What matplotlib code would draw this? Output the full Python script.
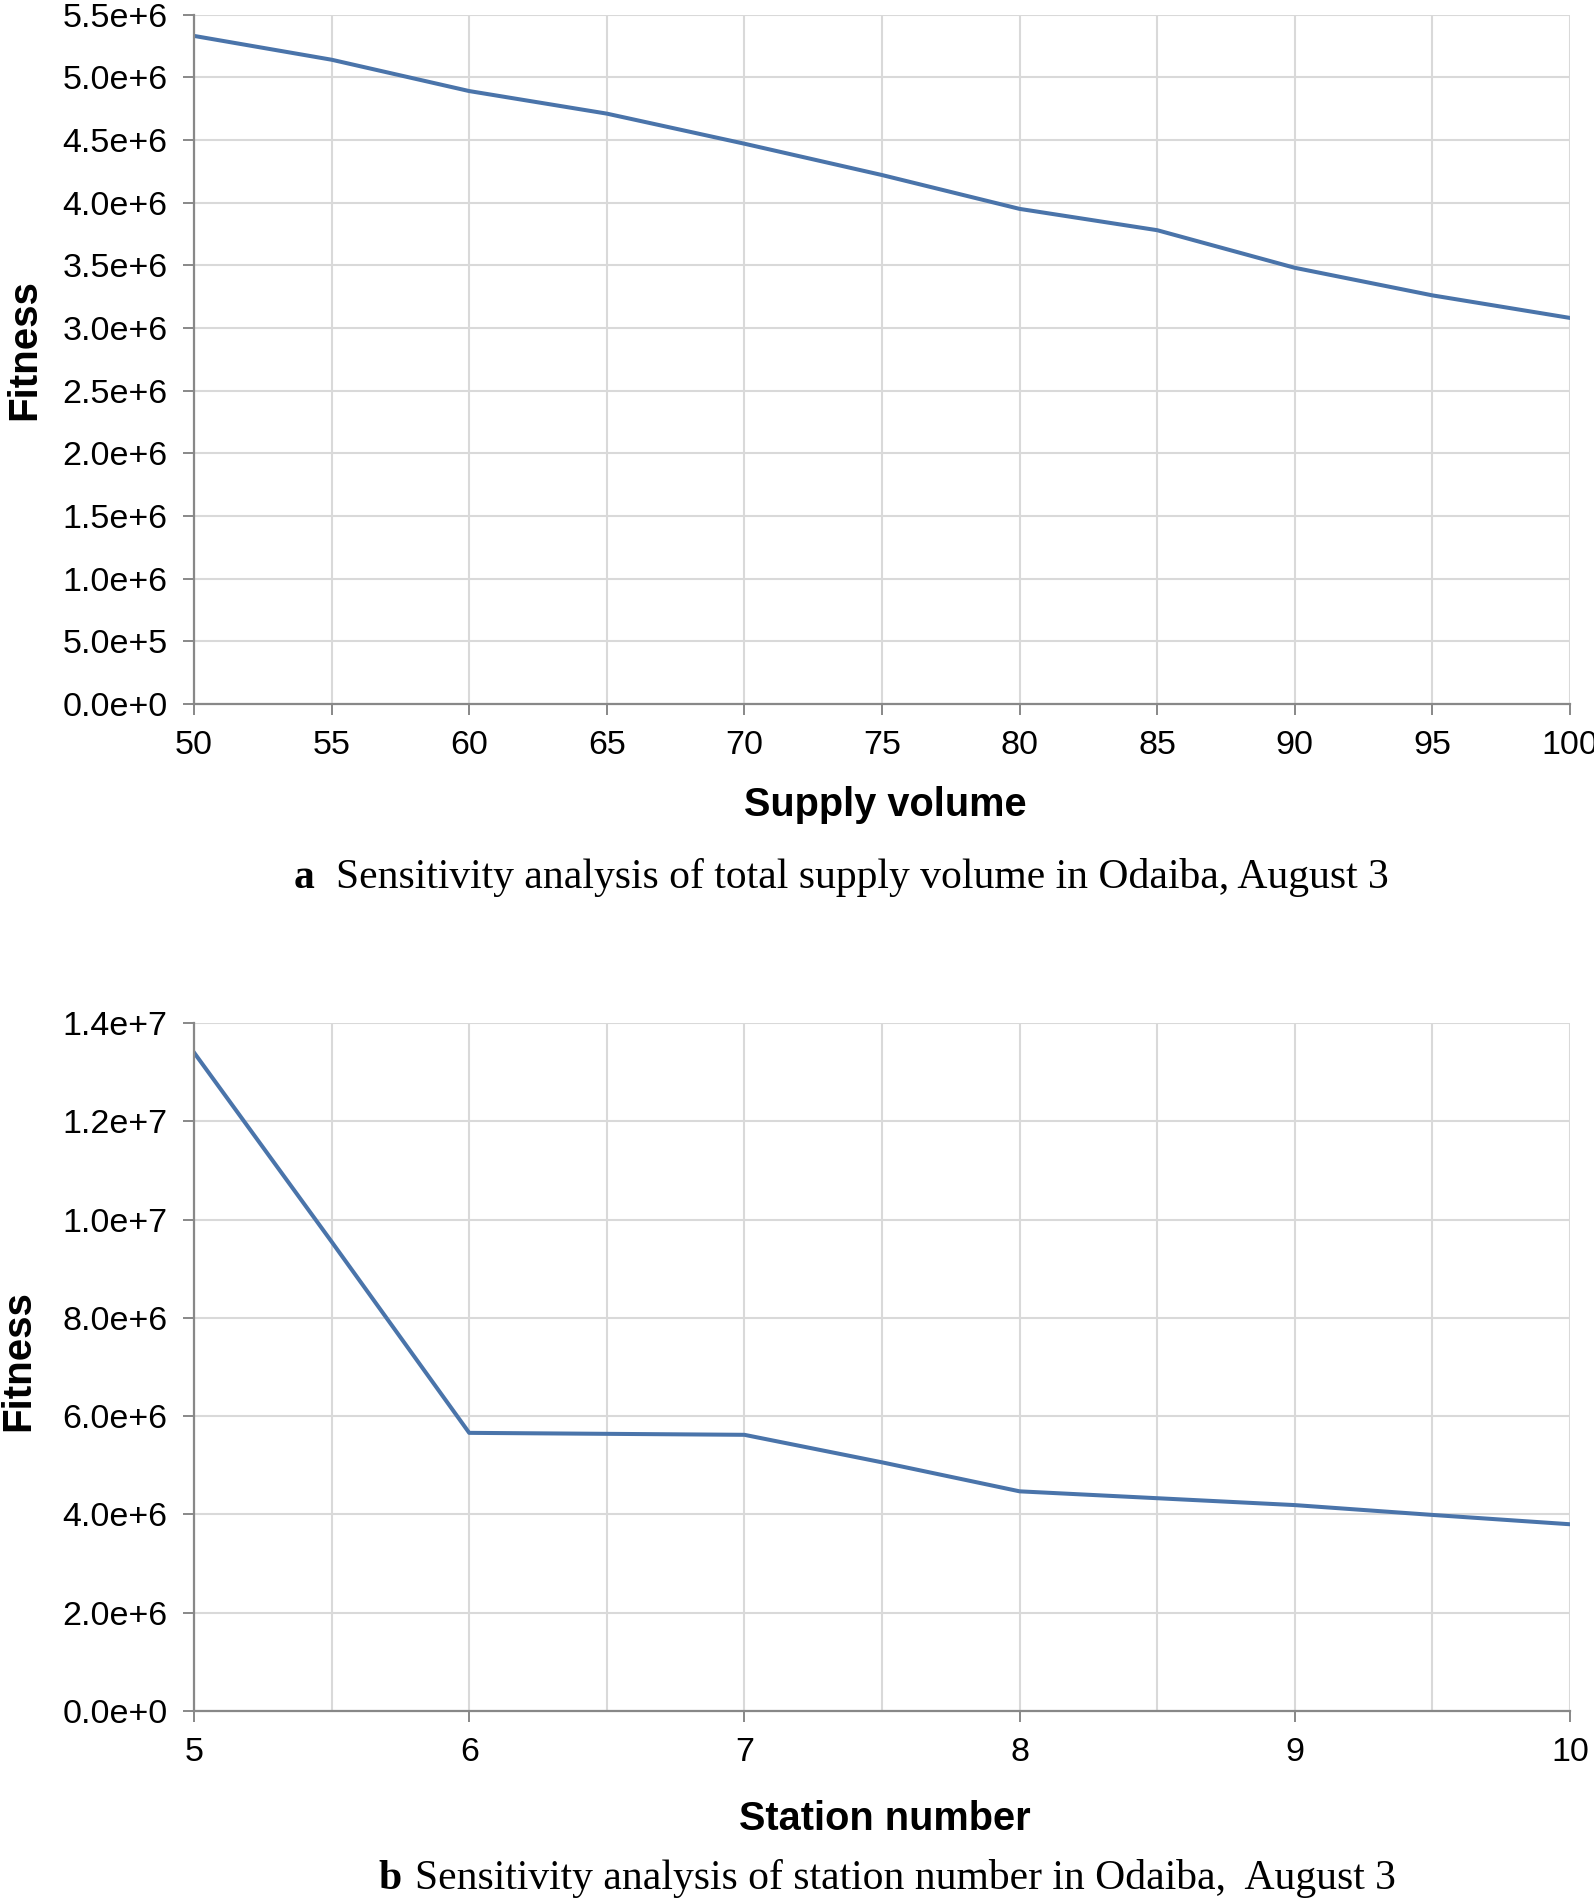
import matplotlib
matplotlib.use("Agg")
import matplotlib.pyplot as plt
from matplotlib.ticker import FuncFormatter, MultipleLocator
import numpy as np

# panel a: total supply volume vs fitness
supply_volume = [50, 55, 60, 65, 70, 75, 80, 85, 90, 95, 100]
fitness_supply = [5.33e6, 5.14e6, 4.89e6, 4.71e6, 4.47e6, 4.22e6,
                  3.95e6, 3.78e6, 3.48e6, 3.26e6, 3.08e6]

# panel b: station number vs fitness
station_number = [5, 5.5, 6, 6.5, 7, 7.5, 8, 8.5, 9, 9.5, 10]
fitness_station = [13.4e6, 9.55e6, 5.66e6, 5.64e6, 5.62e6, 5.06e6,
                   4.47e6, 4.33e6, 4.19e6, 3.99e6, 3.80e6]

LINE_COLOR = "#4a74aa"
GRID_COLOR = "#d9d9d9"
SPINE_COLOR = "#888888"
SANS = "Liberation Sans"
SERIF = "Liberation Serif"

W, H = 1594, 1903


def sci_fmt(v, _pos):
    if v == 0:
        return "0.0e+0"
    exp = int(np.floor(np.log10(abs(v))))
    return f"{v / 10**exp:.1f}e+{exp}"


def style_axes(ax):
    for side in ("top", "right"):
        ax.spines[side].set_visible(False)
    for side in ("left", "bottom"):
        ax.spines[side].set_color(SPINE_COLOR)
        ax.spines[side].set_linewidth(1.6)
    ax.grid(True, which="both", color=GRID_COLOR, linewidth=1.5)
    ax.set_axisbelow(True)
    ax.tick_params(which="major", direction="out", length=8, width=1.4,
                   color=SPINE_COLOR, labelsize=24.5, pad=11)
    ax.tick_params(which="minor", length=0)
    ax.yaxis.set_major_formatter(FuncFormatter(sci_fmt))
    for lab in ax.get_xticklabels() + ax.get_yticklabels():
        lab.set_fontfamily(SANS)


def px(x, y):
    return x / W, 1 - y / H


fig = plt.figure(figsize=(W / 100, H / 100), dpi=100)
plt.rcParams["font.family"] = SANS

# ---- panel a ----
ax1 = fig.add_axes([194 / W, 1 - 704 / H, (1570 - 194) / W, (704 - 14.6) / H])
ax1.plot(supply_volume, fitness_supply, color=LINE_COLOR, linewidth=2.9,
         solid_joinstyle="round")
ax1.set_xlim(50, 100)
ax1.set_ylim(0, 5.5e6)
ax1.xaxis.set_major_locator(MultipleLocator(5))
ax1.yaxis.set_major_locator(MultipleLocator(0.5e6))
style_axes(ax1)

# ---- panel b ----
ax2 = fig.add_axes([194 / W, 1 - 1711 / H, (1570 - 194) / W, (1711 - 1023) / H])
ax2.plot(station_number, fitness_station, color=LINE_COLOR, linewidth=2.9,
         solid_joinstyle="round")
ax2.set_xlim(5, 10)
ax2.set_ylim(0, 1.4e7)
ax2.xaxis.set_major_locator(MultipleLocator(1))
ax2.xaxis.set_minor_locator(MultipleLocator(0.5))
ax2.yaxis.set_major_locator(MultipleLocator(2e6))
style_axes(ax2)

# axis labels
fig.text(*px(885, 805), "Supply volume", ha="center", va="center",
         fontsize=28.6, fontweight="bold", family=SANS)
fig.text(*px(24, 350), "Fitness", ha="center", va="center", rotation=90,
         fontsize=29, fontweight="bold", family=SANS)
fig.text(*px(885, 1819), "Station number", ha="center", va="center",
         fontsize=28.6, fontweight="bold", family=SANS)
fig.text(*px(18, 1361), "Fitness", ha="center", va="center", rotation=90,
         fontsize=29, fontweight="bold", family=SANS)

# captions
fig.text(*px(294, 888), "a", ha="left", va="baseline",
         fontsize=30, fontweight="bold", family=SERIF)
fig.text(*px(336, 888), "Sensitivity analysis of total supply volume in Odaiba, August 3",
         ha="left", va="baseline", fontsize=30, family=SERIF)
fig.text(*px(378, 1889), "b", ha="left", va="baseline",
         fontsize=30, fontweight="bold", family=SERIF)
fig.text(*px(415, 1889), "Sensitivity analysis of station number in Odaiba,  August 3",
         ha="left", va="baseline", fontsize=30, family=SERIF)

fig.savefig("out.png", dpi=100)
